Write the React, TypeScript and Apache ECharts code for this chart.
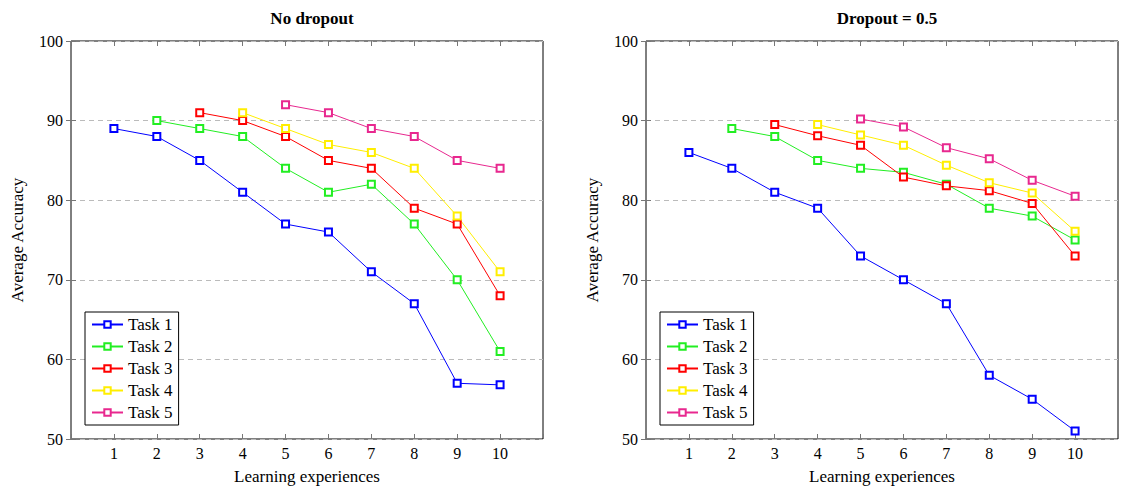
import React, { useEffect, useRef } from "react";
import * as echarts from "echarts";

const experiences = [1, 2, 3, 4, 5, 6, 7, 8, 9, 10];
const taskNames = ["Task 1", "Task 2", "Task 3", "Task 4", "Task 5"];
const taskColors = ["#0000ff", "#22ee22", "#ff0000", "#ffee00", "#e8288f"];
const yTicks = [50, 60, 70, 80, 90, 100];

// No dropout
const noDropTask1 = [89, 88, 85, 81, 77, 76, 71, 67, 57, 56.8];
const noDropTask2 = [null, 90, 89, 88, 84, 81, 82, 77, 70, 61];
const noDropTask3 = [null, null, 91, 90, 88, 85, 84, 79, 77, 68];
const noDropTask4 = [null, null, null, 91, 89, 87, 86, 84, 78, 71];
const noDropTask5 = [null, null, null, null, 92, 91, 89, 88, 85, 84];

// Dropout = 0.5
const dropTask1 = [86, 84, 81, 79, 73, 70, 67, 58, 55, 51];
const dropTask2 = [null, 89, 88, 85, 84, 83.5, 82, 79, 78, 75];
const dropTask3 = [null, null, 89.5, 88.1, 86.9, 82.9, 81.8, 81.2, 79.6, 73];
const dropTask4 = [null, null, null, 89.5, 88.2, 86.9, 84.4, 82.2, 80.9, 76.1];
const dropTask5 = [null, null, null, null, 90.2, 89.2, 86.6, 85.2, 82.5, 80.5];

const noDropSeries = [noDropTask1, noDropTask2, noDropTask3, noDropTask4, noDropTask5];
const dropSeries = [dropTask1, dropTask2, dropTask3, dropTask4, dropTask5];

const FONT = "Liberation Serif";

export default function App() {
  const ref = useRef<HTMLDivElement>(null);

  useEffect(() => {
    if (!ref.current) return;
    const chart = echarts.init(ref.current, null, { renderer: "svg" });

    const grids = [
      { left: 71, top: 41, width: 472, height: 398, show: true, borderColor: "#000", borderWidth: 1 },
      { left: 646, top: 41, width: 473, height: 398, show: true, borderColor: "#000", borderWidth: 1 },
    ];

    const tickStyle = { show: true, inside: true, length: 5, lineStyle: { color: "#777" } };

    const xAxes: any[] = [];
    const yAxes: any[] = [];
    [0, 1].forEach((g) => {
      xAxes.push({
        type: "value",
        gridIndex: g,
        min: 0,
        max: 11,
        interval: 1,
        position: "bottom",
        name: "Learning experiences",
        nameLocation: "middle",
        nameGap: 29,
        nameTextStyle: { fontFamily: FONT, fontSize: 17, color: "#000" },
        axisLine: { show: false },
        axisTick: tickStyle,
        axisLabel: {
          fontFamily: FONT,
          fontSize: 16,
          color: "#000",
          margin: 6,
          formatter: (v: number) => (experiences.includes(v) ? String(v) : ""),
        },
        splitLine: { show: false },
      });
      xAxes.push({
        type: "value",
        gridIndex: g,
        min: 0,
        max: 11,
        interval: 1,
        position: "top",
        axisLine: { show: false },
        axisTick: tickStyle,
        axisLabel: { show: false },
        splitLine: { show: false },
      });
      yAxes.push({
        type: "value",
        gridIndex: g,
        min: yTicks[0],
        max: yTicks[yTicks.length - 1],
        interval: 10,
        position: "left",
        name: "Average Accuracy",
        nameLocation: "middle",
        nameGap: 45,
        nameRotate: 90,
        nameTextStyle: { fontFamily: FONT, fontSize: 17, color: "#000" },
        axisLine: { show: false },
        axisTick: tickStyle,
        axisLabel: { fontFamily: FONT, fontSize: 16, color: "#000", margin: 8 },
        splitLine: { show: true, lineStyle: { color: "#bbbbbb", type: [5, 4], width: 1 } },
      });
      yAxes.push({
        type: "value",
        gridIndex: g,
        min: yTicks[0],
        max: yTicks[yTicks.length - 1],
        interval: 10,
        position: "right",
        axisLine: { show: false },
        axisTick: tickStyle,
        axisLabel: { show: false },
        splitLine: { show: false },
      });
    });

    const series: any[] = [];
    [noDropSeries, dropSeries].forEach((set, g) => {
      set.forEach((vals, i) => {
        series.push({
          type: "line",
          name: taskNames[i],
          xAxisIndex: g * 2,
          yAxisIndex: g * 2,
          data: experiences
            .map((x, k) => [x, vals[k]])
            .filter((p) => p[1] !== null),
          symbol: "emptyRect",
          symbolSize: 7,
          lineStyle: { color: taskColors[i], width: 1 },
          itemStyle: { color: taskColors[i], borderWidth: 1 },
        });
      });
    });

    const legendCommon = {
      orient: "vertical",
      data: taskNames,
      top: 312,
      itemWidth: 31,
      itemHeight: 8,
      itemGap: 5,
      padding: [4, 6, 4, 6],
      borderColor: "#000",
      borderWidth: 1,
      backgroundColor: "#fff",
      textStyle: { fontFamily: FONT, fontSize: 17, color: "#000" },
      selectedMode: false,
    };

    chart.setOption({
      animation: false,
      backgroundColor: "#fff",
      textStyle: { fontFamily: FONT },
      title: [
        {
          text: "No dropout",
          left: 307,
          top: 5,
          textAlign: "center",
          textStyle: { fontFamily: FONT, fontSize: 17, fontWeight: "bold", color: "#000" },
        },
        {
          text: "Dropout = 0.5",
          left: 882,
          top: 5,
          textAlign: "center",
          textStyle: { fontFamily: FONT, fontSize: 17, fontWeight: "bold", color: "#000" },
        },
      ],
      grid: grids,
      xAxis: xAxes,
      yAxis: yAxes,
      legend: [
        { ...legendCommon, left: 85 },
        { ...legendCommon, left: 660 },
      ],
      series,
    });

    return () => chart.dispose();
  }, []);

  return (
    <div
      ref={ref}
      style={{ position: "fixed", left: 0, top: 0, width: 1121, height: 492 }}
    />
  );
}
